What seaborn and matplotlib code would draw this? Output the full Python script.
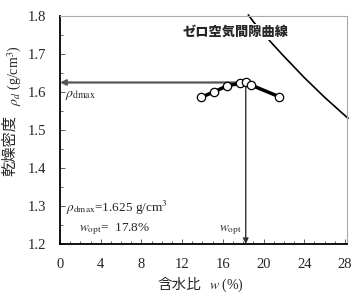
"""
Compaction curve (乾燥密度 vs 含水比) with zero-air-void curve.
"""
import numpy as np
import matplotlib
matplotlib.use("Agg")
import matplotlib.pyplot as plt
import seaborn as sns
import pandas as pd
from matplotlib.ticker import MultipleLocator

# compaction test points
water_content = [13.85, 15.1, 16.4, 17.7, 18.25, 18.8, 21.5]
dry_density = [1.586, 1.600, 1.616, 1.623, 1.626, 1.618, 1.588]

# zero air void curve
zav_w = [18.5, 19.0, 20.0, 21.0, 22.0, 23.0, 24.0, 25.0, 26.0, 27.0, 28.0, 28.3]
zav_rho = [1.803, 1.785, 1.753, 1.723, 1.694, 1.666, 1.638, 1.612, 1.586, 1.562, 1.538, 1.531]

rho_dmax = 1.625
w_opt = 17.8

x_ticks = [0, 4, 8, 12, 16, 20, 24, 28]
y_ticks = [1.2, 1.3, 1.4, 1.5, 1.6, 1.7, 1.8]

sns.set_theme(style="ticks")
plt.rcParams['font.family'] = ['Liberation Serif', 'Noto Sans CJK JP']
plt.rcParams['mathtext.fontset'] = 'stix'
plt.rcParams['font.size'] = 10

df = pd.DataFrame({"w": water_content, "rho": dry_density})
df_zav = pd.DataFrame({"w": zav_w, "rho": zav_rho})

W, H = 352, 298
fig = plt.figure(figsize=(W / 100, H / 100), dpi=100)
ax = fig.add_axes([60 / W, 1 - 244 / H, (347 - 60) / W, (244 - 16) / H])

# zero air void curve
sns.lineplot(data=df_zav, x="w", y="rho", ax=ax, color="black", lw=1.2,
             sort=False, estimator=None, clip_on=False, zorder=2)

# the vertical arrow goes down from the peak point
peak_w = df.loc[df["rho"].idxmax(), "w"]

ax.annotate('', xy=(0, rho_dmax), xytext=(peak_w, rho_dmax),
            arrowprops=dict(arrowstyle='-|>', color='#555555', lw=1.6,
                            shrinkA=0, shrinkB=0, mutation_scale=8), zorder=3)
ax.annotate('', xy=(peak_w, 1.2), xytext=(peak_w, rho_dmax),
            arrowprops=dict(arrowstyle='-|>', color='#333333', lw=1.0,
                            shrinkA=0, shrinkB=0, mutation_scale=8), zorder=3)

# compaction curve
sns.lineplot(data=df, x="w", y="rho", ax=ax, color="black", lw=2.5,
             marker="o", markersize=6, markerfacecolor="white",
             markeredgecolor="black", markeredgewidth=0.9,
             sort=False, estimator=None, zorder=5)

ax.text(17.3, 1.758, "ゼロ空気間隙曲線", ha="center", va="center",
        fontsize=9.5, fontweight="heavy", family=['Noto Sans CJK JP'],
        bbox=dict(facecolor="white", edgecolor="none", pad=1), zorder=4)

ax.text(0.5, 1.591, r'$\rho_{\mathrm{dmax}}$', ha="left", va="center", fontsize=10)
ax.text(0.6, 1.296, r'$\rho_{\mathrm{dmax}}$=1.625 g/cm$^3$', ha="left", va="center", fontsize=9.5)
ax.text(1.9, 1.238, r'$w_{\mathrm{opt}}$=  17.8%', ha="left", va="center", fontsize=9.5)
ax.text(peak_w - 0.4, 1.236, r'$w_{\mathrm{opt}}$', ha="right", va="center", fontsize=9.5)

ax.set_xlim(0, 28.2)
ax.set_ylim(1.2, 1.8)
ax.set_xticks(x_ticks)
ax.set_yticks(y_ticks)
ax.set_yticklabels([f"{v:.1f}" for v in y_ticks])
ax.xaxis.set_minor_locator(MultipleLocator(1))
ax.yaxis.set_minor_locator(MultipleLocator(0.05))
ax.tick_params(which="both", direction="in", top=False, right=False,
               labelsize=10.5, color="#444444")
ax.tick_params(which="major", length=3.5, width=0.6, pad=10)
ax.tick_params(which="minor", length=2.5, width=0.6)

# seaborn puts the column names on the axes; the labels are drawn by hand below
ax.set_xlabel("")
ax.set_ylabel("")

# axis labels, built from pieces so the Japanese glyphs get a CJK font
fig.text(201 / W, 1 - 285 / H, "含水比", ha="right", va="center",
         fontsize=10.5, family=['Noto Sans CJK JP'])
fig.text(209 / W, 1 - 285 / H, r"$w$ (%)", ha="left", va="center", fontsize=10)
fig.text(10 / W, 1 - 176 / H, "乾燥密度", ha="center", va="bottom",
         rotation=90, fontsize=11, family=['Noto Sans CJK JP'])
fig.text(15 / W, 1 - 106 / H, r"$\rho_d$ (g/cm$^3$)", ha="center", va="bottom",
         rotation=90, fontsize=10)

for side in ["left", "bottom"]:
    ax.spines[side].set_color("black")
    ax.spines[side].set_linewidth(1.3)
for side in ["top", "right"]:
    ax.spines[side].set_visible(True)
    ax.spines[side].set_color("#aaaaaa")
    ax.spines[side].set_linewidth(0.8)

fig.savefig("out.png", dpi=100)
